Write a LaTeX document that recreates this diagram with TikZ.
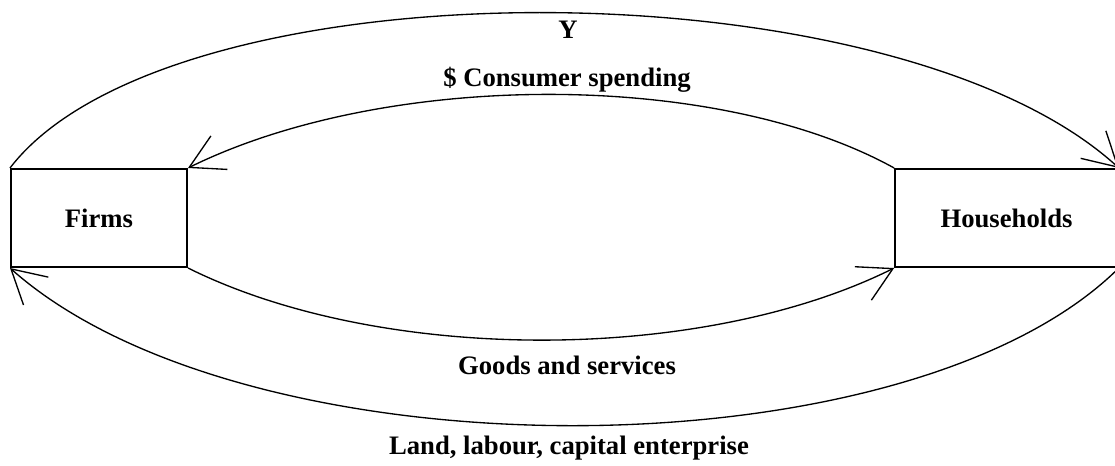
\documentclass[tikz,border=0pt]{standalone}
\usepackage{fontspec}
\setmainfont{Liberation Serif}
\usetikzlibrary{arrows.meta}

\begin{document}
\begin{tikzpicture}[x=0.75pt,y=-0.75pt,->,>={Straight Barb[length=25pt,width=28pt]},
    line width=1pt,font=\fontsize{20}{24}\selectfont\bfseries,
    box node/.style={rectangle,draw,line width=1.5pt,minimum height=73.5pt,inner sep=0pt}]

  \useasboundingbox (0,0) rectangle (1115,465);

  \node[box node,minimum width=132pt] (firms) at (99,218) {Firms};
  \node[box node,minimum width=167pt] (hh) at (1006.5,218) {Households};

  \node (y) at (568,30) {Y};
  \node (spend) at (567,80) {\$ Consumer spending};
  \node (goods) at (567,365) {Goods and services};
  \node (factors) at (569,448) {Land, labour, capital enterprise};

  % money flows
  \draw (firms.north west) .. controls (169,-39) and (893,-39) .. (hh.north east);
  \draw (hh.north west) .. controls (717,70) and (387,70) .. (firms.north east);
  % real flows
  \draw (firms.south east) .. controls (381,364) and (701,364) .. (hh.south west);
  \draw (hh.south east) .. controls (907,478) and (246,478) .. (firms.south west);

\end{tikzpicture}
\end{document}
